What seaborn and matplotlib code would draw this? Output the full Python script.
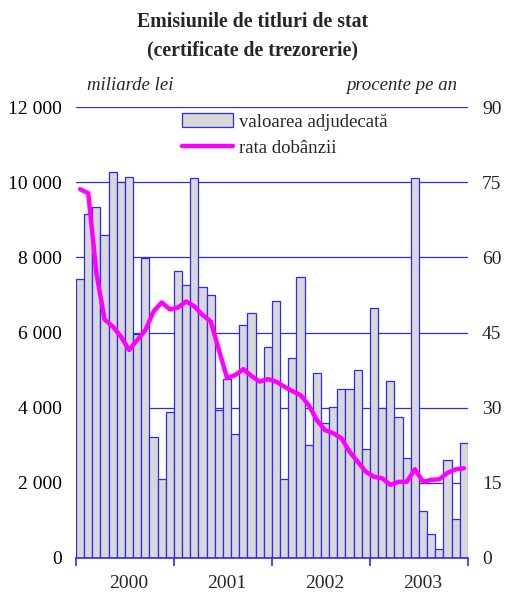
import numpy as np
import pandas as pd
import matplotlib
matplotlib.use("Agg")
import matplotlib.pyplot as plt
from matplotlib.patches import Patch
from matplotlib.lines import Line2D
import seaborn as sns

# ---- data ----
years = [2000, 2001, 2002, 2003]
months = [f"{y}-{m:02d}" for y in years for m in range(1, 13)]
valoarea = [7430, 9140, 9350, 8600, 10280, 10000, 10150, 5950, 7990, 3220, 2100, 3880,
            7640, 7270, 10120, 7220, 6990, 3950, 4750, 3300, 6210, 6520, 4700, 5620,
            6850, 2100, 5320, 7470, 3000, 4910, 3600, 4010, 4500, 4500, 5000, 2900,
            6660, 4000, 4720, 3750, 2650, 10100, 1250, 630, 240, 2600, 1050, 3060]
rata = [73.6, 72.8, 56.8, 47.6, 46.2, 44.2, 41.5, 43.5, 45.5, 49.2, 51.0, 49.6,
        50.0, 51.2, 50.2, 48.5, 47.2, 41.5, 35.9, 36.5, 37.7, 36.3, 35.2, 35.7,
        35.2, 34.2, 33.3, 32.5, 30.5, 27.5, 25.5, 24.9, 23.9, 21.2, 19.2, 17.2,
        16.2, 15.9, 14.6, 15.2, 15.2, 17.7, 15.2, 15.6, 15.7, 17.0, 17.7, 17.9]
left_ticks = [0, 2000, 4000, 6000, 8000, 10000, 12000]
left_labels = ["0", "2 000", "4 000", "6 000", "8 000", "10 000", "12 000"]
right_ticks = [0, 15, 30, 45, 60, 75, 90]

df = pd.DataFrame({"luna": months, "valoarea": valoarea, "rata": rata})

sns.set_theme(style="white")
plt.rcParams["font.family"] = ["Liberation Serif", "DejaVu Serif"]

BLUE = "#2a2aff"
FILL = "#d8d8d8"
FS = 14
fig = plt.figure(figsize=(5.06, 5.92), dpi=100)
ax = fig.add_axes([76 / 506, 1 - 558 / 592, 392 / 506, 451 / 592])

sns.barplot(data=df, x="luna", y="valoarea", ax=ax, width=1.0, color=FILL,
            saturation=1, edgecolor=BLUE, linewidth=0.9, zorder=2)
ax.set_xlim(-0.5, len(months) - 0.5)
ax.set_ylim(0, 12000)
ax.set_yticks(left_ticks)
ax.set_yticklabels(left_labels, fontsize=FS, color="black")
ax.set_axisbelow(True)
ax.yaxis.grid(True, color=BLUE, linewidth=0.9, zorder=0)
ax.xaxis.grid(False)
for s in ["left", "right", "top"]:
    ax.spines[s].set_visible(False)
ax.spines["bottom"].set_color(BLUE)
ax.spines["bottom"].set_linewidth(1.2)
ax.spines["bottom"].set_zorder(5)
ax.tick_params(axis="y", length=0, pad=10)
ax.set_xlabel("")
ax.set_ylabel("")

# x ticks: year boundaries (marks), labels centered
bounds = [-0.5 + 12 * i for i in range(len(years) + 1)]
ax.set_xticks(bounds)
ax.set_xticklabels([""] * len(bounds))
ax.tick_params(axis="x", which="major", length=6, width=1.2, color=BLUE, direction="out", bottom=True)
ax.set_xticks([6 + 12 * i for i in range(len(years))], minor=True)
ax.set_xticklabels([str(y) for y in years], minor=True, fontsize=FS)
ax.tick_params(axis="x", which="minor", length=0, pad=12, bottom=True)

ax2 = ax.twinx()
sns.lineplot(x=np.arange(len(rata)), y=rata, ax=ax2, color="#ff00ff", linewidth=3.2, zorder=4)
ax2.set_ylim(0, 90)
ax2.set_xlim(-0.5, len(months) - 0.5)
ax2.set_yticks(right_ticks)
ax2.set_yticklabels([str(t) for t in right_ticks], fontsize=FS)
ax2.tick_params(axis="y", length=0, pad=10)
ax2.grid(False)
for s in ["left", "right", "top", "bottom"]:
    ax2.spines[s].set_visible(False)
ax2.set_ylabel("")

fig.text(0.5, 1 - 22 / 592, "Emisiunile de titluri de stat", ha="center", va="center",
         fontsize=14.3, fontweight="bold")
fig.text(0.5, 1 - 50 / 592, "(certificate de trezorerie)", ha="center", va="center",
         fontsize=14.3, fontweight="bold")
fig.text(87 / 506, 1 - 86 / 592, "miliarde lei", ha="left", va="center", fontsize=13.5, style="italic")
fig.text(457 / 506, 1 - 86 / 592, "procente pe an", ha="right", va="center", fontsize=13.5, style="italic")

handles = [Patch(facecolor=FILL, edgecolor=BLUE, linewidth=0.9),
           Line2D([0], [0], color="#ff00ff", linewidth=3.2)]
ax2.legend(handles, ["valoarea adjudecată", "rata dobânzii"], loc="upper left",
           bbox_to_anchor=((182 - 76) / 392, (558 - 113) / 451), frameon=False,
           fontsize=13.5, handlelength=2.7, handleheight=0.8, handletextpad=0.35, borderpad=0,
           borderaxespad=0, labelspacing=0.45)

fig.savefig("out.png", dpi=100)
